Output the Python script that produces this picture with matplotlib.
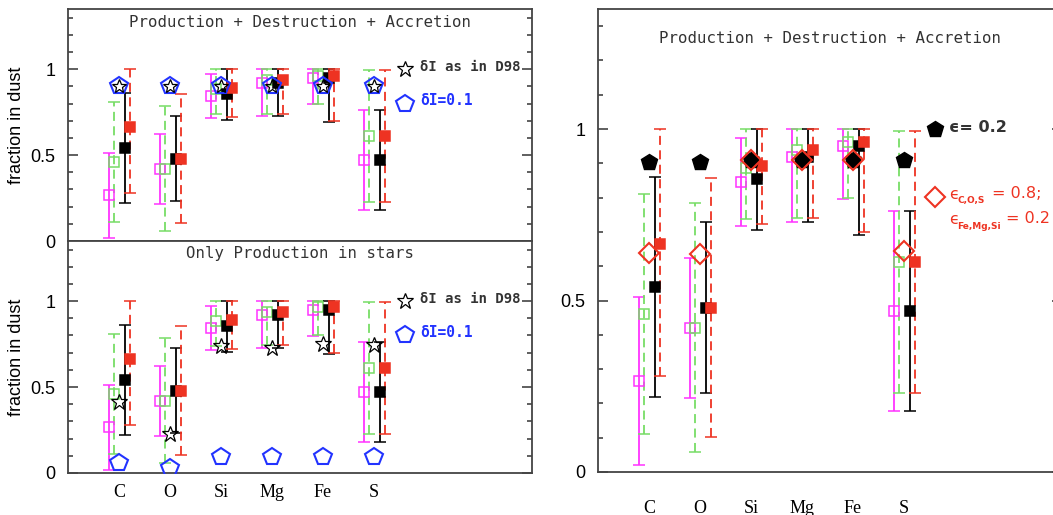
import numpy as np
import matplotlib
matplotlib.use("Agg")
import matplotlib.pyplot as plt
from matplotlib.ticker import MultipleLocator

elements = ["C", "O", "Si", "Mg", "Fe", "S"]

# observed dust fractions (point, lower end, upper end) for four data sets
obs_a = [0.266, 0.419, 0.846, 0.919, 0.951, 0.469]
obs_a_lo = [0.02, 0.217, 0.718, 0.73, 0.795, 0.178]
obs_a_hi = [0.511, 0.625, 0.973, 1.0, 1.0, 0.762]

obs_b = [0.461, 0.42, 0.885, 0.939, 0.963, 0.613]
obs_b_lo = [0.11, 0.057, 0.738, 0.742, 0.80, 0.229]
obs_b_hi = [0.81, 0.785, 1.0, 1.0, 1.0, 0.995]

obs_c = [0.54, 0.478, 0.853, 0.919, 0.95, 0.469]
obs_c_lo = [0.22, 0.23, 0.705, 0.73, 0.69, 0.178]
obs_c_hi = [0.861, 0.73, 1.0, 1.0, 1.0, 0.762]

obs_d = [0.664, 0.478, 0.893, 0.939, 0.963, 0.611]
obs_d_lo = [0.28, 0.103, 0.723, 0.742, 0.70, 0.229]
obs_d_hi = [1.0, 0.856, 1.0, 1.0, 1.0, 0.995]

# model predictions
full_star = [0.9, 0.9, 0.9, 0.9, 0.9, 0.9]
full_pent = [0.9, 0.9, 0.9, 0.9, 0.9, 0.9]
prod_star = [0.415, 0.225, 0.739, 0.729, 0.748, 0.745]
prod_pent = [0.057, 0.027, 0.092, 0.092, 0.092, 0.092]
eps_const = [0.903, 0.903, 0.91, 0.91, 0.91, 0.91]
eps_split = [0.64, 0.635, 0.91, 0.91, 0.91, 0.645]

MAG = "#ff33ff"
GRN = "#77dd66"
RED = "#ee3322"
BLU = "#2233ff"
SPINE = "#444444"
TEXT = "#333333"
TITLE_FONT = "DejaVu Sans Mono"

x = np.arange(1, len(elements) + 1)


def errs(v, lo, hi):
    v = np.array(v)
    return [v - np.array(lo), np.array(hi) - v]


def draw_obs(ax):
    sets = [
        (-0.2, obs_a, obs_a_lo, obs_a_hi, MAG, "-", dict(mfc="none", mec=MAG)),
        (-0.09, obs_b, obs_b_lo, obs_b_hi, GRN, "--", dict(mfc="none", mec=GRN)),
        (0.11, obs_c, obs_c_lo, obs_c_hi, "black", "-", dict(mfc="black", mec="black")),
        (0.21, obs_d, obs_d_lo, obs_d_hi, RED, "--", dict(mfc=RED, mec=RED)),
    ]
    for dx, v, lo, hi, col, ls, mk in sets:
        eb = ax.errorbar(x + dx, v, yerr=errs(v, lo, hi), fmt="s", ms=6.5,
                         mew=1.1, color=col, ecolor=col, elinewidth=1.3,
                         capsize=4, capthick=1.3, zorder=3, **mk)
        eb[2][0].set_linestyle((0, (5, 3)) if ls == "--" else "-")


def style(ax, xlabels=True, labelpad=8):
    ax.set_xlim(0, 9.1)
    ax.set_ylim(0, 1.35)
    ax.yaxis.set_minor_locator(MultipleLocator(0.1))
    ax.set_yticks([0, 0.5, 1])
    ax.set_yticklabels(["0", "0.5", "1"], fontfamily="Liberation Sans", fontsize=13)
    ax.tick_params(axis="y", which="both", direction="in", left=True, right=True,
                   color=SPINE, width=1.2, pad=9)
    ax.tick_params(axis="y", which="major", length=7)
    ax.tick_params(axis="y", which="minor", length=3.5)
    ax.set_xticks(x)
    ax.tick_params(axis="x", length=0, pad=labelpad)
    if xlabels:
        ax.set_xticklabels(elements, fontfamily="Liberation Serif", fontsize=13)
    else:
        ax.set_xticklabels([])
    for s in ax.spines.values():
        s.set_color(SPINE)
        s.set_linewidth(1.3)


fig = plt.figure(figsize=(10.53, 5.15), dpi=100)
ax1 = fig.add_axes([0.0646, 0.532, 0.4406, 0.4505])
ax2 = fig.add_axes([0.0646, 0.0816, 0.4406, 0.4505])
ax3 = fig.add_axes([0.568, 0.0835, 0.4406, 0.899])

# upper left: full model
draw_obs(ax1)
ax1.plot(x, full_pent, "p", ms=13, mfc="none", mec=BLU, mew=1.5, zorder=4)
ax1.plot(x, full_star, "*", ms=10, mfc="none", mec="black", mew=0.9, zorder=5)
ax1.text(4.55, 1.27, "Production + Destruction + Accretion", ha="center",
         va="center", fontsize=11.3, family=TITLE_FONT, color=TEXT)
style(ax1, xlabels=False)

# lower left: stellar production only
draw_obs(ax2)
ax2.plot(x, prod_pent, "p", ms=13, mfc="none", mec=BLU, mew=1.5, zorder=4)
ax2.plot(x, prod_star, "*", ms=12, mfc="none", mec="black", mew=0.9, zorder=5)
ax2.text(4.55, 1.275, "Only Production in stars", ha="center", va="center",
         fontsize=11.3, family=TITLE_FONT, color=TEXT)
style(ax2, xlabels=True, labelpad=8)

for ax in (ax1, ax2):
    ax.plot([6.6], [1.0], "*", ms=12, mfc="none", mec="black", mew=0.9,
            clip_on=False)
    ax.text(6.9, 1.01, "δI as in D98", va="center", fontsize=10,
            family=TITLE_FONT, color=TEXT, fontweight="bold")
    ax.plot([6.6], [0.8], "p", ms=13, mfc="none", mec=BLU, mew=1.5,
            clip_on=False)
    ax.text(6.9, 0.815, "δI=0.1", va="center", fontsize=10.5,
            family=TITLE_FONT, color=BLU, fontweight="bold")
    ax.set_ylabel("fraction in dust", fontsize=13, family="Liberation Sans")
    ax.yaxis.set_label_coords(-0.093, 0.5)

# right: condensation efficiencies
draw_obs(ax3)
ax3.plot(x, eps_const, "p", ms=12, color="black", zorder=4)
ax3.plot(x, eps_split, "D", ms=10, mfc="none", mec=RED, mew=1.5, zorder=5)
ax3.text(4.55, 1.265, "Production + Destruction + Accretion", ha="center",
         va="center", fontsize=11.3, family=TITLE_FONT, color=TEXT)
ax3.plot([6.6], [1.0], "p", ms=12, color="black", clip_on=False)
ax3.text(6.88, 1.005, "ϵ= 0.2", va="center", fontsize=11.5,
         family=["DejaVu Sans"], color=TEXT, fontweight="bold")
ax3.plot([6.6], [0.803], "D", ms=10, mfc="none", mec=RED, mew=1.5,
         clip_on=False)

# two-part efficiency label: epsilon, tiny subscript, then the value
for yy, sub, sub_end, val in [(0.81, "C,O,S", 7.72, "= 0.8;"),
                              (0.735, "Fe,Mg,Si", 8.0, "= 0.2")]:
    ax3.text(6.88, yy, "ϵ", va="center", fontsize=11.5,
             family=["DejaVu Sans"], color=RED)
    ax3.text(7.05, yy - 0.018, sub, va="center", fontsize=6.5,
             family=["DejaVu Sans"], color=RED, fontweight="bold")
    ax3.text(sub_end, yy + 0.003, val, va="center", fontsize=11.5,
             family=["DejaVu Sans"], color=RED)
style(ax3, xlabels=True, labelpad=20)

fig.savefig("out.png", dpi=100)
